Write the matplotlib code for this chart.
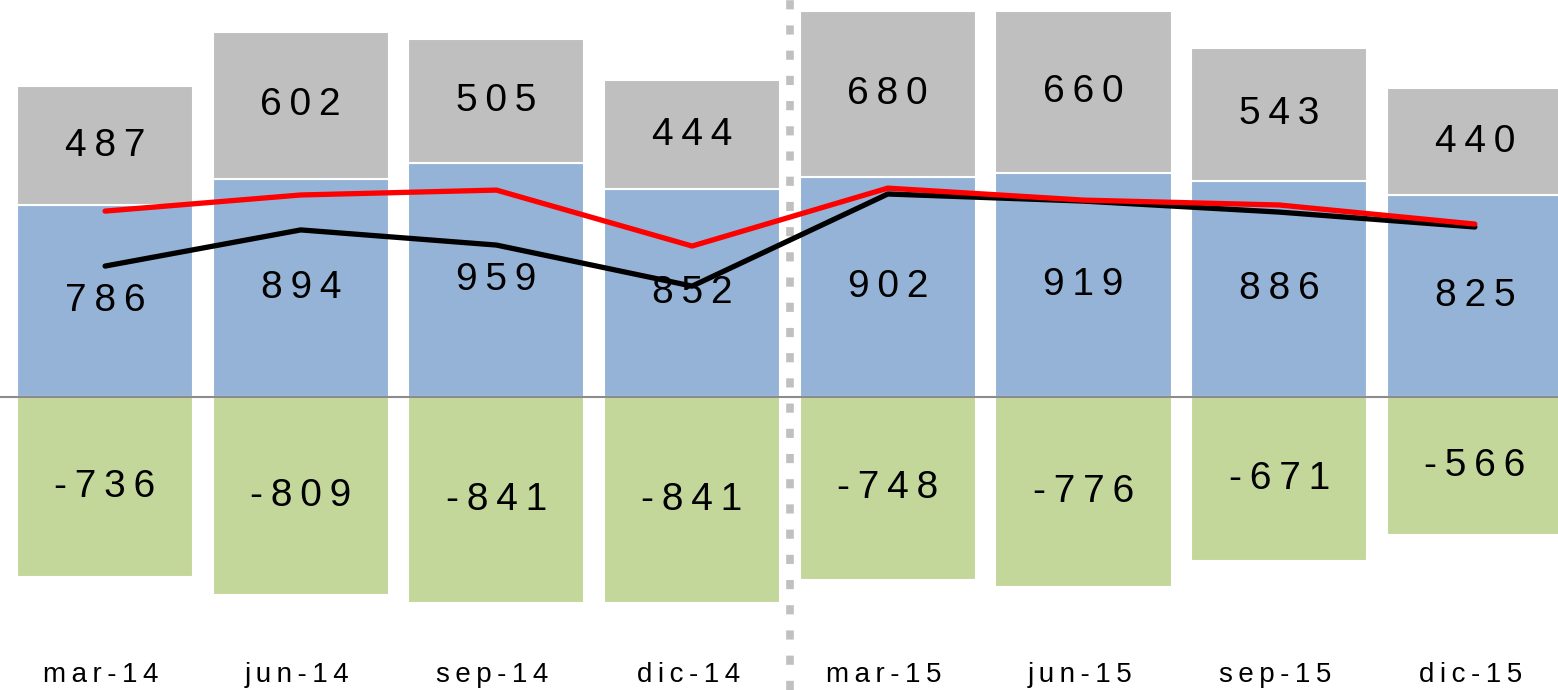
# Stacked quarterly bars with two overlay lines

import numpy as np
import matplotlib.pyplot as plt

plt.rcParams["font.family"] = ["Liberation Sans Narrow", "Liberation Sans", "DejaVu Sans"]

# Data
quarters = ["mar-14", "jun-14", "sep-14", "dic-14", "mar-15", "jun-15", "sep-15", "dic-15"]
blue_vals = [786, 894, 959, 852, 902, 919, 886, 825]
gray_vals = [487, 602, 505, 444, 680, 660, 543, 440]
green_vals = [-736, -809, -841, -841, -748, -776, -671, -566]
red_line = [761, 827, 847, 618, 855, 806, 786, 708]
black_line = [536, 684, 622, 454, 831, 802, 757, 696]


def spaced(s):
    # letter-spaced label, thin space between characters
    return "\u2009".join(str(s))


x = np.arange(len(quarters))

fig = plt.figure(figsize=(15.58, 6.9), dpi=100)
ax = fig.add_axes([0, 0, 1, 1])

# Bars
ax.bar(x, blue_vals, width=0.9, color="#95b3d7", edgecolor="white", linewidth=1.5, zorder=2)
ax.bar(x, gray_vals, width=0.9, bottom=blue_vals, color="#bfbfbf", edgecolor="white", linewidth=1.5, zorder=2)
ax.bar(x, green_vals, width=0.9, color="#c4d79b", edgecolor="white", linewidth=1.5, zorder=2)

# Zero line and separator
ax.axhline(0, color="#8c8c8c", linewidth=1.5, zorder=3)
ax.axvline(3.5, color="#c0c0c0", linewidth=5.5, linestyle=(0, (1.2, 2.1)), zorder=3)

# Lines
ax.plot(x, black_line, color="black", linewidth=3.8, solid_capstyle="round", zorder=5)
ax.plot(x, red_line, color="#ff0000", linewidth=3.8, solid_capstyle="round", zorder=5)

# Value labels
for i in range(len(quarters)):
    ax.text(x[i], blue_vals[i] / 2, spaced(blue_vals[i]), ha="center", va="center", fontsize=28, zorder=4)
    ax.text(x[i], blue_vals[i] + gray_vals[i] / 2, spaced(gray_vals[i]), ha="center", va="center", fontsize=28, zorder=4)
    ax.text(x[i], green_vals[i] / 2, spaced(green_vals[i]), ha="center", va="center", fontsize=28, zorder=4)
    ax.text(x[i] - 0.02, -1138, spaced(quarters[i]), ha="center", va="center", fontsize=20)

ax.set_xlim(-0.537, 7.425)
ax.set_ylim(-1199, 1625)
ax.axis("off")

fig.savefig("out.png", dpi=100)
